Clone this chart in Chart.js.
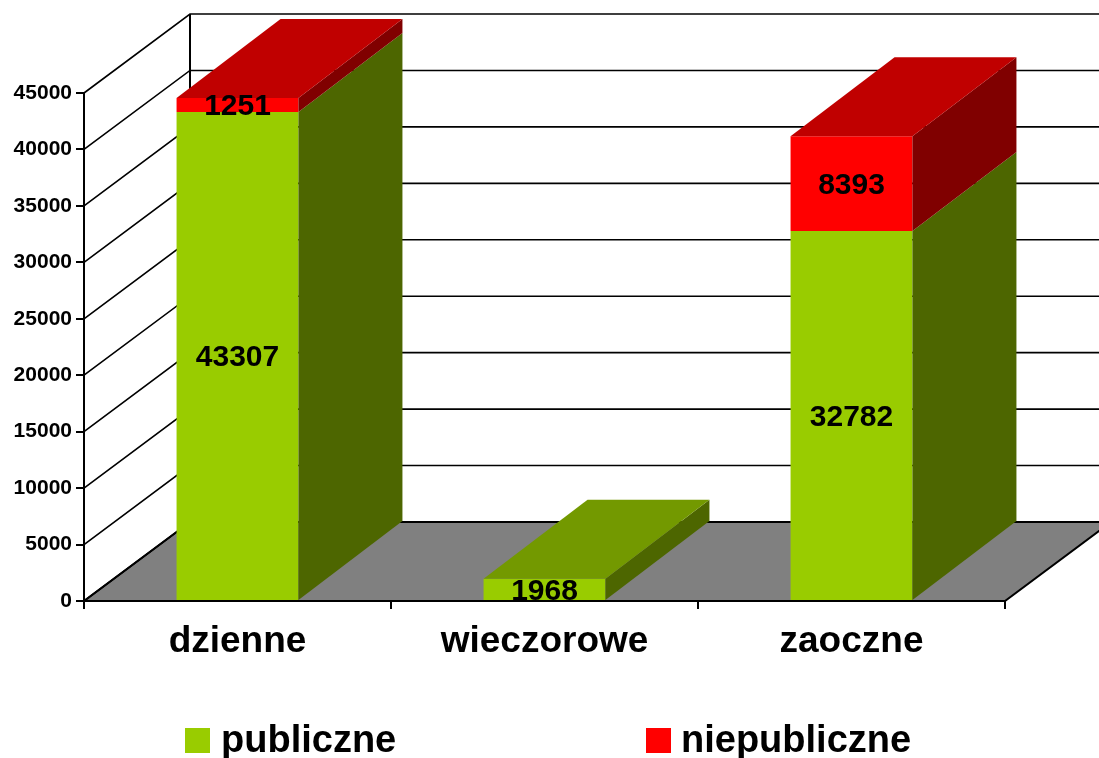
<!DOCTYPE html>
<html><head><meta charset="utf-8">
<script src="https://cdn.jsdelivr.net/npm/chart.js@4/dist/chart.umd.min.js"></script>
<style>html,body{margin:0;padding:0;background:#fff;} canvas{display:block;}</style>
</head><body>
<canvas id="c" width="1099" height="758"></canvas>
<script>
const categories = ['dzienne', 'wieczorowe', 'zaoczne'];
const seriesNames = ['publiczne', 'niepubliczne'];
const publiczne = [43307, 1968, 32782];
const niepubliczne = [1251, 0, 8393];
const yTicks = [0, 5000, 10000, 15000, 20000, 25000, 30000, 35000, 40000, 45000];

const FONT = '"Liberation Sans", Arial, Helvetica, sans-serif';
const frontColors = ['#99CC00', '#FF0000'];
const sideColors = ['#4D6600', '#800000'];
const topColors = ['#739900', '#C00000'];
const WALL_DX = 106, WALL_DY = -79;
const BAR_DX = 104, BAR_DY = -79;

const scene3d = {
  id: 'scene3d',
  beforeDraw(chart) {
    const ctx = chart.ctx;
    const ys = chart.scales.y, area = chart.chartArea;
    const L = area.left, R = area.right, B = area.bottom;
    ctx.save();
    ctx.fillStyle = '#fff';
    ctx.fillRect(0, 0, chart.width, chart.height);
    // floor
    ctx.beginPath();
    ctx.moveTo(L, B); ctx.lineTo(R, B);
    ctx.lineTo(R + WALL_DX, B + WALL_DY); ctx.lineTo(L + WALL_DX, B + WALL_DY);
    ctx.closePath();
    ctx.fillStyle = '#808080'; ctx.fill();
    ctx.strokeStyle = '#000'; ctx.lineWidth = 2; ctx.stroke();
    // side wall diagonals + back wall gridlines
    ctx.lineWidth = 1.6;
    yTicks.forEach(v => {
      const py = ys.getPixelForValue(v);
      ctx.beginPath();
      ctx.moveTo(L, py);
      ctx.lineTo(L + WALL_DX, py + WALL_DY);
      ctx.lineTo(chart.width + 60, py + WALL_DY);
      ctx.stroke();
    });
    // back wall left edge
    ctx.lineWidth = 2;
    ctx.beginPath();
    ctx.moveTo(L + WALL_DX, B + WALL_DY);
    ctx.lineTo(L + WALL_DX, ys.getPixelForValue(yTicks[yTicks.length - 1]) + WALL_DY);
    ctx.stroke();
    ctx.restore();
  },
  afterDatasetsDraw(chart) {
    const ctx = chart.ctx;
    const dsets = chart.data.datasets;
    ctx.save();
    const labels = [];
    categories.forEach((c, j) => {
      let top = null;
      dsets.forEach((d, i) => {
        const v = d.data[j];
        if (!v) return;
        const el = chart.getDatasetMeta(i).data[j];
        const p = el.getProps(['x', 'y', 'base', 'width'], true);
        const x1 = p.x - p.width / 2, x2 = p.x + p.width / 2;
        ctx.beginPath();
        ctx.moveTo(x2, p.base); ctx.lineTo(x2, p.y);
        ctx.lineTo(x2 + BAR_DX, p.y + BAR_DY); ctx.lineTo(x2 + BAR_DX, p.base + BAR_DY);
        ctx.closePath();
        ctx.fillStyle = sideColors[i]; ctx.fill();
        top = {i, x1, x2, y: p.y};
        labels.push({text: String(v), x: p.x, y: (p.y + p.base) / 2});
      });
      if (top) {
        ctx.beginPath();
        ctx.moveTo(top.x1, top.y); ctx.lineTo(top.x2, top.y);
        ctx.lineTo(top.x2 + BAR_DX, top.y + BAR_DY); ctx.lineTo(top.x1 + BAR_DX, top.y + BAR_DY);
        ctx.closePath();
        ctx.fillStyle = topColors[top.i]; ctx.fill();
      }
    });
    ctx.fillStyle = '#000';
    ctx.font = 'bold 30px ' + FONT;
    ctx.textAlign = 'center';
    ctx.textBaseline = 'middle';
    labels.forEach(l => ctx.fillText(l.text, l.x, l.y + 2));
    ctx.restore();
  },
  afterDraw(chart) {
    const ctx = chart.ctx;
    ctx.save();
    const pos = [{bx: 185, tx: 221}, {bx: 646, tx: 681}];
    ctx.font = 'bold 38px ' + FONT;
    ctx.textAlign = 'left';
    ctx.textBaseline = 'alphabetic';
    seriesNames.forEach((n, i) => {
      ctx.fillStyle = frontColors[i];
      ctx.fillRect(pos[i].bx, 728, 25, 25);
      ctx.fillStyle = '#000';
      ctx.fillText(n, pos[i].tx, 752);
    });
    ctx.restore();
  }
};

new Chart(document.getElementById('c'), {
  type: 'bar',
  data: {
    labels: categories,
    datasets: [
      {label: seriesNames[0], data: publiczne, backgroundColor: frontColors[0], borderWidth: 0, barPercentage: 0.397, categoryPercentage: 1},
      {label: seriesNames[1], data: niepubliczne, backgroundColor: frontColors[1], borderWidth: 0, barPercentage: 0.397, categoryPercentage: 1}
    ]
  },
  options: {
    responsive: false,
    animation: false,
    layout: {padding: {top: 93, right: 94, bottom: 97, left: 0}},
    plugins: {legend: {display: false}, tooltip: {enabled: false}},
    scales: {
      x: {
        stacked: true,
        afterFit: s => { s.height = 60; },
        grid: {offset: true, drawOnChartArea: false, drawTicks: true, tickLength: 8, color: '#000', lineWidth: 2},
        border: {display: true, color: '#000', width: 2, z: 1},
        ticks: {font: {family: FONT, size: 37, weight: 'bold'}, color: '#000', padding: 11, maxRotation: 0, autoSkip: false}
      },
      y: {
        stacked: true, min: 0, max: 45000,
        afterBuildTicks: s => { s.ticks = yTicks.map(v => ({value: v})); },
        afterFit: s => { s.width = 84; },
        grid: {drawOnChartArea: false, drawTicks: true, tickLength: 8, color: '#000', lineWidth: 2},
        border: {display: true, color: '#000', width: 2},
        ticks: {font: {family: FONT, size: 21, weight: 'bold'}, color: '#000', padding: 4, callback: v => String(v)}
      }
    }
  },
  plugins: [scene3d]
});
</script>
</body></html>
